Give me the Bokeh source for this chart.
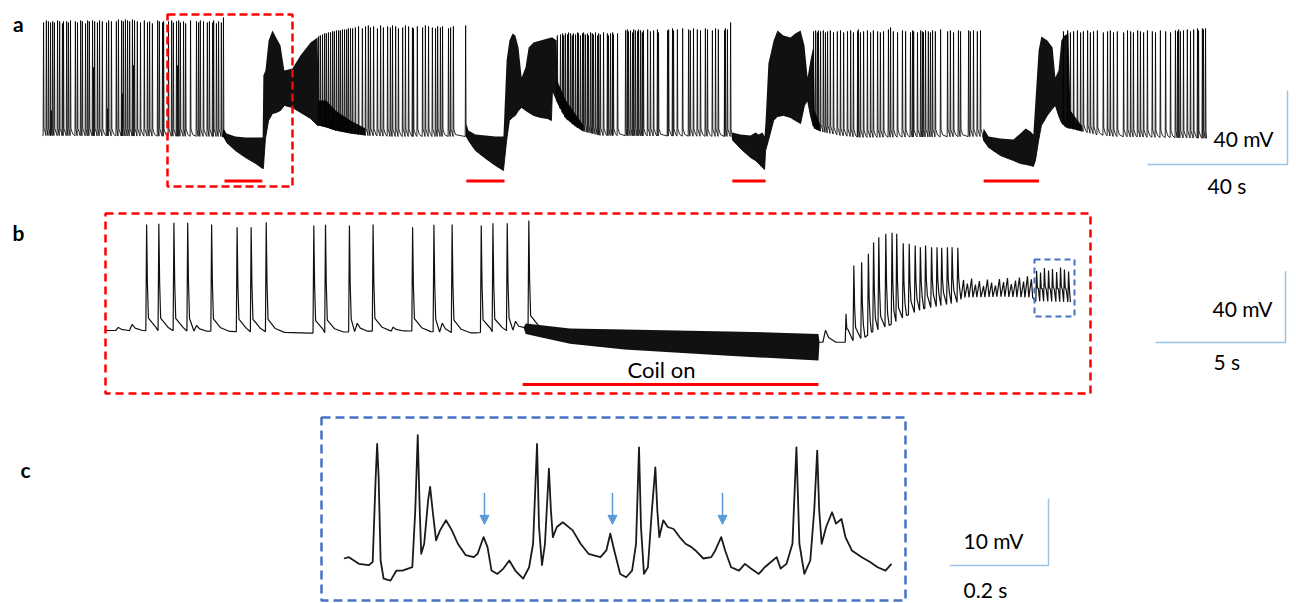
import numpy as np
from bokeh.plotting import figure
from bokeh.models import Range1d, Arrow, NormalHead
from bokeh.embed import file_html
from bokeh.resources import INLINE
from bokeh.core.properties import value

# ======================= DATA =======================
# ---- panel a : whole recording (time in s, membrane potential in mV)
a_base = [(0, -59.5), (51.4, -60), (92.3, -59.5), (100.0, -60), (120.9, -60.5), (154.6, -57.3), (159.4, -59.5),
          (196.9, -60.5), (222.3, -57.3), (228.0, -59.5), (233.7, -60.5), (268.6, -61), (297.0, -57.3),
          (301.0, -58.9), (306.0, -60), (332.6, -61)]
a_seg1 = [(0.3,1.6),(1.1,2.7),(1.7,2.2),(2.3,1.6),(2.9,2.2),(3.4,1.6),(4.3,2.7),(4.9,2.2),(5.7,1.1),(6.0,2.2),
          (6.9,2.2),(7.4,1.6),(8.0,2.7),(9.4,2.2),(10.0,1.6),(10.9,2.7),(11.4,2.2),(12.3,1.1),(12.9,2.7),(13.4,2.2),
          (14.3,2.7),(14.9,2.2),(15.7,1.6),(16.3,2.7),(17.1,2.2),(18.3,1.6),(18.9,2.7),(19.7,2.2),(21.1,2.2),(21.7,3.2),
          (22.6,2.7),(23.1,2.2),(23.7,3.2),(24.3,2.7),(24.9,2.2),(25.7,3.2),(26.3,2.7),(27.1,2.2),(28.0,1.6),(29.1,2.7),
          (30.0,1.6),(30.6,2.2),(31.4,1.1),(32.9,2.7),(33.4,2.2),(34.3,1.6),(34.6,2.2),(36.0,2.2),(36.9,2.7),(37.4,1.6),
          (38.3,2.2),(38.9,2.7),(39.4,1.6),(40.3,2.2),(40.9,1.1),(42.3,2.7),(44.0,2.2),(44.6,1.6),(45.1,2.7),(46.0,2.2),
          (47.1,1.6),(47.7,2.2),(48.6,1.6),(48.9,2.7),(49.7,1.1),(50.3,2.2),(51.1,1.6),(51.7,4.3)]
a_short = [(2.5,-46.0),(14.6,-22.7),(18.6,-45.0),(22.8,-36.8),(26.0,-21.6),(38.6,-21.6)]
a_seg2 = [(78.9,-5.9),(79.4,-5.4),(80.0,-4.9),(80.6,-4.3),(81.1,-4.3),(81.7,-3.8),(82.3,-3.8),(82.9,-3.2),(83.4,-3.2),
          (84.0,-2.7),(84.6,-2.7),(85.1,-2.7),(85.7,-2.2),(86.3,-2.2),(86.9,-2.2),(87.4,-1.6),(88.0,-1.6),(88.6,-1.6),
          (89.4,-1.1),(90.3,-0.5),(91.4,-1.6),(92.3,-0.5),(93.1,0.0),(93.7,-1.1),(94.6,-0.5),(95.7,-1.6),(96.6,0.0),
          (97.4,-1.1),(98.6,-0.5),(99.4,-1.1),(100.0,0.0),(100.9,-0.5),(101.7,-1.6),(102.9,-1.1),(103.7,0.0),(104.6,-0.5),
          (105.7,-1.1),(106.0,-1.6),(107.1,-0.5),(108.6,-1.1),(109.4,0.0),(110.3,-0.5),(111.4,-1.1),(112.3,-1.6),
          (112.9,-0.5),(113.7,-1.1),(114.3,-0.5),(116.0,-1.6),(116.6,-1.1),(117.4,-0.5),(120.9,0.0)]
a_seg3 = [(147.1,-5.4),(148.0,-4.9),(148.6,-4.3),(148.9,-5.4),(149.4,-4.3),(150.0,-4.9),(150.3,-3.8),(150.9,-4.3),
          (151.4,-5.4),(151.7,-4.3),(152.3,-4.9),(152.9,-3.8),(153.1,-4.3),(153.7,-5.4),(154.3,-4.3),(154.6,-3.8),
          (155.1,-4.9),(155.7,-4.3),(156.0,-5.4),(156.6,-3.8),(157.1,-4.3),(157.4,-4.9),(158.0,-3.8),(158.6,-5.4),
          (158.9,-4.3),(159.4,-4.9),(160.3,-3.8),(161.4,-4.3),(161.7,-5.4),(162.3,-4.3),(162.9,-3.8),(163.1,-4.9),
          (164.3,-4.3),(166.6,-2.7),(167.1,-2.2),(167.4,-3.2),(168.0,-2.7),(168.6,-3.8),(168.9,-2.2),(169.4,-2.7),
          (170.0,-3.2),(170.3,-2.2),(170.9,-2.7),(171.4,-3.8),(171.7,-2.7),(172.9,-2.2),(173.7,-3.2),(174.6,-2.7),
          (175.7,-2.2),(176.0,-3.8),(178.6,-2.7),(178.9,-2.2),(180.0,-1.6),(180.3,-2.7),(181.4,-2.2),(182.9,-1.6),
          (184.6,-2.2),(185.1,-2.7),(186.0,-1.6),(187.1,-2.2),(188.0,-2.7),(189.4,-1.6),(190.0,-2.2),(191.4,-2.7),
          (192.3,-1.6),(193.1,-2.2),(194.9,-2.7),(195.1,-1.6),(195.7,-2.2),(196.6,1.6)]
a_seg4 = [(220.3,-3.2),(220.9,-2.7),(221.4,-3.8),(221.7,-2.7),(222.3,-3.2),(223.1,-2.7),(223.7,-3.8),(224.3,-3.2),
          (225.1,-2.7),(226.0,-3.8),(227.1,-3.2),(228.0,-2.7),(228.9,-3.8),(230.0,-3.2),(230.9,-2.7),(231.7,-3.8),
          (232.9,-3.2),(233.1,-2.2),(233.7,-3.8),(234.6,-3.2),(235.7,-2.7),(236.6,-3.8),(237.4,-2.7),(238.6,-3.2),
          (239.4,-3.8),(240.3,-3.2),(241.7,-2.2),(242.3,-1.1),(243.1,-3.2),(244.3,-3.8),(245.7,-2.7),(246.6,-3.2),
          (248.0,-3.8),(248.6,-2.7),(248.9,-3.2),(250.0,-3.8),(250.9,-2.7),(251.4,-3.2),(251.7,-3.8),(252.3,-2.7),
          (253.1,-3.2),(253.7,-3.8),(254.3,-2.7),(255.1,-3.2),(256.6,-2.2),(258.6,-3.2),(259.4,-2.7),(260.3,-3.8),
          (261.7,-2.7),(262.3,-3.2),(264.6,-2.7),(265.1,-3.2),(266.0,-2.7),(267.1,-3.2),(268.0,-2.7)]
a_seg5 = [(291.7,-3.2),(292.9,-2.7),(293.7,-3.8),(294.6,-3.2),(295.7,-2.7),(296.6,-3.8),(297.4,-3.2),(298.6,-2.7),
          (299.4,-3.8),(300.3,-3.2),(301.4,-2.7),(303.1,-3.8),(304.3,-3.2),(305.1,-2.7),(306.0,-3.8),(307.1,-3.2),
          (308.9,-3.8),(310.0,-2.7),(310.9,-3.2),(311.7,-3.8),(312.9,-2.7),(313.7,-3.2),(314.6,-3.8),(315.7,-2.7),
          (317.1,-3.2),(318.0,-3.8),(319.4,-2.7),(320.9,-3.2),(322.3,-3.8),(323.7,-2.7),(324.3,-3.2),(324.6,-2.2),
          (325.1,-3.2),(326.0,-2.7),(327.1,-2.2),(328.0,-3.2),(328.9,-2.2),(330.0,-1.6),(330.3,-2.7),(331.4,-1.6),
          (331.7,-2.2),(332.3,-1.6)]
# dense (unresolved) stretches: coil-on band + burst after it : (t, upper mV, lower mV)
a_ev1 = [(51.4,-60,-60),(51.7,-55.7,-60.5),(52.6,-58.4,-63.2),(55.1,-60,-67.6),(58.0,-60.5,-71.4),(60.9,-60.5,-74.6),
         (62.9,-60.5,-77.3),(63.1,-27,-77.3),(63.7,-24.3,-61.1),(64.6,-8.1,-51.4),(65.7,-2.7,-47.6),(66.9,-7.0,-47),
         (68.0,-10.8,-45.9),(69.1,-24.3,-43.2),(71.4,-23.2,-44.3),(73.7,-16.2,-47),(76.6,-9.2,-50.3),(78.6,-6.5,-54.1),
         (78.9,-40.5,-54.1),(81.1,-40.5,-55.1),(83.7,-45.9,-56.8),(88.0,-51.4,-58.4),(92.3,-55.7,-59.5)]
a_ev2 = [(120.9,-60,-60),(121.1,-53,-60.5),(121.7,-56.8,-62.2),(123.7,-58.9,-67.6),(126.6,-59.5,-71.9),(129.4,-60,-75.7),
         (131.7,-60,-78.4),(132.0,-45.9,-73),(132.6,-18.9,-62.2),(133.4,-8.1,-51.4),(134.3,-4.3,-49.7),(135.1,-5.4,-48.6),
         (136.0,-11.9,-45.9),(136.9,-28.1,-44.3),(138.0,-22.7,-45.9),(138.9,-11.9,-47),(140.3,-9.2,-48.6),(142.3,-8.1,-49.7),
         (144.3,-7.0,-50.3),(145.4,-6.5,-51.4),(145.7,-6.5,-35.1),(146.9,-8.1,-40.5),(147.1,-30,-42.2),(149.4,-40,-50),
         (152.3,-48,-54.6),(154.6,-54,-57.3)]
a_ev3 = [(196.9,-60,-60),(197.1,-57.8,-62.2),(199.4,-58.9,-66.5),(202.3,-59.5,-71.4),(203.7,-57.8,-73),(204.6,-58.9,-74.6),
         (205.7,-57.8,-76.8),(206.3,-60,-77.8),(206.6,-51.4,-67.6),(207.4,-20.5,-62.2),(208.9,-8.1,-51.4),(210.0,-2.7,-49.2),
         (211.7,-5.4,-48.6),(213.7,-6.5,-49.7),(215.1,-4.3,-51.4),(216.6,-2.7,-53),(217.7,-10.8,-43.2),(218.6,-28.1,-40.5),
         (219.4,-18.9,-48.6),(220.3,-10.8,-55.1),(220.6,-45.9,-55.7),(222.3,-54,-57.3)]
a_ev4 = [(268.6,-60,-60),(268.9,-55.7,-62.2),(270.3,-60,-65.9),(273.7,-61.1,-70.3),(277.4,-61.6,-73),(279.4,-58.4,-74.6),
         (280.9,-55.7,-75.1),(282.3,-57.3,-75.7),(283.1,-58.9,-76.2),(283.7,-40.5,-73),(284.6,-13.5,-62.2),(285.4,-5.9,-54.1),
         (287.1,-8.1,-48.6),(288.6,-11.9,-44.9),(289.4,-28.1,-43.2),(290.3,-24.3,-48.6),(291.1,-8.1,-52.4),(292.0,-5.4,-54.6),
         (293.1,-4.3,-55.7),(293.7,-45.9,-55.7),(297.0,-54.5,-57.3)]
a_coil_on = [52.0, 121.1, 197.1, 268.9]
a_coil_off = [62.8, 132.0, 206.6, 284.7]
a_scale = (40, 40)          # 40 s, 40 mV

# ---- panel b : expanded view of the red box (time s, mV)
b_base = [(0,-60),(1.5,-60),(6.4,-60.8),(7.9,-61.5),(10.5,-60.2),(12.0,-60.3),(13.6,-61.3),(14.3,-61.3),(16.0,-59.5),
          (16.12,-58.5),(27.46,-66.6),(28.45,-66.6),(28.85,-65.6),(29.25,-63.8),(29.50,-61.0),(30.18,-57.2),
          (30.85,-51.6),(31.51,-47.8),(32.18,-46.0),(32.84,-44.1),(33.0,-41.5),(34.5,-41.0),(35.7,-41.5),(35.8,-43.5),
          (37.15,-44.0)]
b_pre = [(1.62,-0.4),(2.09,0.0),(2.67,0.5),(3.20,0.5),(4.12,-0.4),(5.10,-2.0),(5.64,-2.0),(6.22,0.8),(8.05,-1.0),
         (8.50,-0.6),(9.42,-1.0),(10.33,-0.4),(11.85,-2.0),(12.67,-0.6),(13.37,-0.4),(14.49,-1.0),(14.94,0.3),
         (15.49,0.3),(16.32,1.8)]
b_bumps = [(0.53,-58.3),(1.06,-56.6),(3.54,-57.2),(9.72,-55.9),(11.10,-58.1),(12.99,-55.9),(15.81,-54.8),(27.73,-59.9)]
b_post = [(28.52,-50.6),(28.82,-23.5),(29.12,-21.6),(29.38,-16.9),(29.58,-10.4),(29.78,-7.6),(30.05,-5.7),(30.29,-5.1),
          (30.47,-5.7),(30.72,-11.0),(30.95,-11.3),(31.18,-12.2),(31.38,-13.2),(31.58,-12.2),(31.81,-13.2),(32.02,-13.2),
          (32.20,-13.5),(32.42,-13.2),(32.60,-13.2),(32.82,-13.5)]
b_plateau = [(33.04,-31.6),(33.19,-33.6),(33.35,-30.8),(33.50,-34.2),(33.65,-32.2),(33.81,-35.0),(33.96,-31.4),
             (34.12,-33.1),(34.27,-34.7),(34.42,-31.1),(34.58,-32.8),(34.73,-30.5),(34.88,-33.9),(35.04,-31.9),
             (35.19,-30.2),(35.35,-32.5),(35.50,-29.6),(35.65,-31.2)]
b_boxed = [(35.85,-26.6),(36.00,-27.4),(36.15,-24.9),(36.31,-26.3),(36.46,-25.5),(36.62,-27.1),(36.77,-24.6),
           (36.92,-25.8),(37.08,-26.9)]
b_coil = [(16.12,-58.5,-58.5),(16.2,-56.0,-62.0),(17.9,-58.9,-67.5),(20.0,-59.5,-70.7),(24.0,-60.5,-74.2),
          (27.46,-61.9,-76.9),(27.5,-66.6,-66.6)]
b_coil_on, b_coil_off = 16.08, 27.46
b_scale = (5, 40)           # 5 s, 40 mV

# ---- panel c : expanded view of the blue box (time ms, mV)
c_trace = [(0.8,-45.0),(11,-44.8),(31,-45.8),(51,-46.0),(59,-45.5),(65,-32.9),(68,-27.9),(71,-32.9),(75,-45.3),
           (81,-48.0),(95,-48.3),(107,-46.8),(119,-46.8),(139,-46.3),(145,-37.8),(150,-26.6),(154,-37.8),(157,-44.3),
           (163,-42.8),(171,-36.3),(175,-34.3),(180,-37.8),(187,-42.3),(195,-40.8),(207,-39.3),(219,-40.8),(231,-42.8),
           (247,-44.5),(263,-44.8),(271,-44.3),(283,-41.8),(291,-43.3),(299,-46.8),(311,-47.3),(323,-46.5),(335,-45.3),
           (347,-46.8),(363,-48.0),(375,-46.3),(383,-42.8),(391,-27.9),(395,-40.3),(401,-46.0),(407,-42.8),(415,-31.6),
           (419,-37.8),(423,-41.8),(431,-40.3),(443,-39.6),(463,-40.8),(479,-42.8),(495,-44.3),(519,-44.8),(531,-43.8),
           (539,-41.3),(547,-43.8),(559,-47.3),(571,-47.8),(583,-46.8),(591,-42.8),(597,-28.4),(601,-40.3),(607,-47.3),
           (615,-46.3),(623,-37.8),(630,-31.4),(634,-37.8),(638,-41.8),(646,-39.3),(655,-40.3),(667,-40.6),(679,-41.8),
           (691,-42.8),(703,-43.3),(711,-43.8),(727,-45.0),(743,-44.8),(751,-43.8),(763,-41.8),(771,-43.8),(783,-46.3),
           (799,-46.8),(811,-45.8),(823,-46.5),(839,-47.3),(851,-46.3),(867,-45.3),(875,-44.8),(883,-46.5),(895,-45.8),
           (907,-42.8),(915,-28.4),(921,-42.8),(931,-47.3),(943,-45.3),(951,-37.8),(957,-28.9),(961,-37.8),(966,-42.8),
           (975,-40.3),(987,-38.1),(995,-39.8),(1006,-39.1),(1014,-41.8),(1027,-43.8),(1047,-44.8),(1063,-45.5),
           (1079,-46.3),(1095,-46.8),(1107,-45.8)]
c_arrow_t = [284.8, 543.4, 765.7]
c_arrow_top, c_arrow_tip = -35.2, -39.9
c_scale = (200, 10)         # 0.2 s, 10 mV

# ======================= LAYOUT (pixel placement of each panel) =======================
PW, PH = 1296, 603
LEFT, RIGHT, BOTTOM, TOP = 0, PW, PH, 0
PANEL = {  # x pixel of t=0, px per time unit, y pixel of reference mV, px per mV, reference mV
    "a": (42, 3.5, 136, 1.85, -60.0),
    "b": (104, 26.0, 330, 1.78, -60.0),
    "c": (343, 0.495, 558, 6.7, -45.0),
}

p = figure(width=PW, height=PH, x_range=Range1d(LEFT, RIGHT), y_range=Range1d(BOTTOM, TOP),
           output_backend="svg", toolbar_location=None, min_border=0,
           x_axis_location=None, y_axis_location=None)
p.grid.visible = False
p.outline_line_color = None
p.background_fill_color = "white"
p.border_fill_color = "white"

exr, eyr = {}, {}
for k, (x0, sx, y0, sy, ref) in PANEL.items():
    exr[k] = Range1d((LEFT - x0) / sx, (RIGHT - x0) / sx)
    eyr[k] = Range1d(ref - (BOTTOM - y0) / sy, ref + (y0 - TOP) / sy)
p.extra_x_ranges = exr
p.extra_y_ranges = eyr


def to_data(k, X, Y):
    x0, sx, y0, sy, ref = PANEL[k]
    return (X - x0) / sx, ref + (y0 - Y) / sy


def build_trace(base, spikes, tmpl, small_tmpl=None, small_amp=0.0):
    bt = np.array([q[0] for q in base], float)
    bv = np.array([q[1] for q in base], float)
    spikes = sorted(spikes)
    pts, busy = [], []
    for i, (t, v) in enumerate(spikes):
        nxt = spikes[i + 1][0] if i + 1 < len(spikes) else bt[-1]
        b = float(np.interp(t, bt, bv))
        T = small_tmpl if (small_tmpl is not None and v - b < small_amp) else tmpl
        start = t + T[0][0]
        end = start
        for dt, fr, off in T:
            tt = t + dt
            if dt > 0 and tt >= nxt + T[0][0]:
                break
            yy = v if dt == 0 else float(np.interp(tt, bt, bv)) + fr * (v - b) + off
            pts.append((tt, yy))
            end = tt
        busy.append((start, end))
    for t, v in base:
        if not any(s <= t <= e for s, e in busy):
            pts.append((t, v))
    pts.sort(key=lambda q: q[0])
    return [q[0] for q in pts], [q[1] for q in pts]


INK = "#111111"
RED = "#FF0000"
BLUE = "#4472C4"
SCALE = "#9DC3E6"
ARROW = "#5B9BD5"

# ---------------- panel a ----------------
a_events = (a_ev1, a_ev2, a_ev3, a_ev4)
# resting line: read baseline knots outside the dense stretches + the lower edge of each dense stretch
a_line_base = [k for k in a_base if not any(ev[0][0] <= k[0] <= ev[-1][0] for ev in a_events)]
for ev in a_events:
    a_line_base += [(q[0], q[2]) for q in ev]
a_line_base.sort(key=lambda q: q[0])
tmpl_a = [(-0.12, 0, 0), (0, 1, 0), (0.12, 0, 4), (0.6, 0, 1)]
xa, ya = build_trace(a_line_base, a_seg1 + a_short + a_seg2 + a_seg3 + a_seg4 + a_seg5, tmpl_a)
for ev in a_events:
    p.varea(x=[q[0] for q in ev], y1=[q[2] for q in ev], y2=[q[1] for q in ev],
            fill_color=INK, x_range_name="a", y_range_name="a")
p.line(xa, ya, line_color="#000000", line_width=0.85, line_join="bevel",
       x_range_name="a", y_range_name="a")
_, a_bar_v = to_data("a", 0, 180.5)
p.segment(x0=a_coil_on, x1=a_coil_off, y0=[a_bar_v] * 4, y1=[a_bar_v] * 4, line_color=RED, line_width=3,
          x_range_name="a", y_range_name="a")
at, av = to_data("a", 1287, 164)
p.line([at - a_scale[0], at, at], [av, av, av + a_scale[1]], line_color=SCALE, line_width=1.5,
       x_range_name="a", y_range_name="a")
p.quad(left=167, right=292, top=14, bottom=186, fill_alpha=0, line_color=RED, line_width=2.5, line_dash="8 4")

# ---------------- panel b ----------------
tmpl_b = [(-0.03, 0, 0), (0, 1, 0), (0.03, 0.45, 0), (0.07, 0, 7), (0.35, 0, 2), (0.7, 0, 0)]
tmpl_b_small = [(-0.1, 0, 0), (0, 1, 0), (0.12, 0.4, 0), (0.4, 0, 0)]
xb, yb = build_trace(b_base, b_pre + b_bumps + b_post + b_plateau + b_boxed, tmpl_b, tmpl_b_small, 13.0)
p.varea(x=[q[0] for q in b_coil], y1=[q[2] for q in b_coil], y2=[q[1] for q in b_coil],
        fill_color=INK, x_range_name="b", y_range_name="b")
p.line(xb, yb, line_color=INK, line_width=1.2, line_join="bevel", x_range_name="b", y_range_name="b")
_, b_bar_v = to_data("b", 0, 384)
p.segment(x0=[b_coil_on], x1=[b_coil_off], y0=[b_bar_v], y1=[b_bar_v], line_color=RED, line_width=3,
          x_range_name="b", y_range_name="b")
bt_, bv_ = to_data("b", 1285, 342)
p.line([bt_ - b_scale[0], bt_, bt_], [bv_, bv_, bv_ + b_scale[1]], line_color=SCALE, line_width=1.5,
       x_range_name="b", y_range_name="b")
p.quad(left=105, right=1090, top=213, bottom=393, fill_alpha=0, line_color=RED, line_width=2.5, line_dash="8 5")
p.quad(left=1034, right=1074, top=259, bottom=316, fill_alpha=0, line_color=BLUE, line_width=2, line_dash="6 4")

# ---------------- panel c ----------------
p.line([q[0] for q in c_trace], [q[1] for q in c_trace], line_color="#1a1a1a", line_width=1.8,
       line_join="round", x_range_name="c", y_range_name="c")
for t in c_arrow_t:
    p.add_layout(Arrow(end=NormalHead(size=9, fill_color=ARROW, line_color=ARROW),
                       x_start=t, y_start=c_arrow_top, x_end=t, y_end=c_arrow_tip,
                       line_color=ARROW, line_width=1.5, x_range_name="c", y_range_name="c"))
ct, cv = to_data("c", 1048, 565)
p.line([ct - c_scale[0], ct, ct], [cv, cv, cv + c_scale[1]], line_color=SCALE, line_width=1.5,
       x_range_name="c", y_range_name="c")
p.quad(left=321, right=905, top=417, bottom=600, fill_alpha=0, line_color=BLUE, line_width=2.5, line_dash="9 5")

# ---------------- texts ----------------
FONT = value("Lato")
p.text(x=[12.5, 12, 20], y=[23, 232, 469], text=["a", "b", "c"], text_font=FONT,
       text_font_size=value("21px"), text_font_style="bold", text_color="black",
       text_align="left", text_baseline="alphabetic")
p.text(x=[1213, 1207, 1212, 1213, 963, 963], y=[138, 185, 308, 361, 540, 589],
       text=["40 mV", "40 s", "40 mV", "5 s", "10 mV", "0.2 s"],
       text_font=FONT, text_font_size=value("21px"), text_color="black",
       text_align="left", text_baseline="middle")
p.text(x=[661], y=[369], text=["Coil on"], text_font=FONT, text_font_size=value("22px"),
       text_color="black", text_align="center", text_baseline="middle")

open("out.html", "w").write(file_html(p, INLINE))
